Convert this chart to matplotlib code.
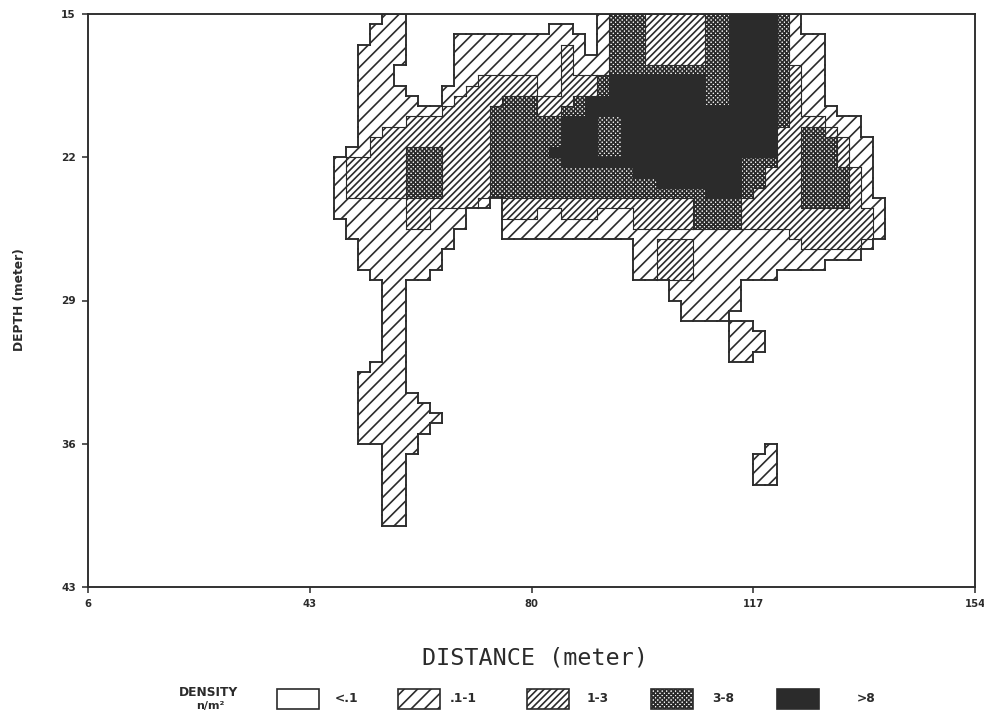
import numpy as np
import matplotlib
matplotlib.use('Agg')
import matplotlib.pyplot as plt
from matplotlib.collections import PolyCollection, LineCollection
from matplotlib.patches import Rectangle

plt.rcParams['font.family'] = 'DejaVu Sans'
plt.rcParams['hatch.linewidth'] = 1.5

# survey grid: 2 m cells along the transect, 0.5 m cells in depth
grid_x0, grid_dx = 47.0, 2.0
grid_y0, grid_dy = 15.0, 0.5

# density class of each cell: '.' <.1, '1' .1-1, '2' 1-3, '3' 3-8, '4' >8
density_rows = [
    "....11................13332222233444431........",
    "...111............11..13332222233444431........",
    "...111....11111111111.1333222223344443111......",
    "..1111....11111111121.1333222223344443111......",
    "..1111....1111111112111333222223344443111......",
    "..111.....1111111112111333333333344443211......",
    "..111.....1122222112223444444443344443211......",
    "..1111...11222222112223444444443344443211......",
    "..11111..12222333222344444444443344443211......",
    "..1111111222233332233444444444444444432111.....",
    "..111122222223333334443344444444444443222111...",
    "..112222222223333334443344444444444442233211...",
    "..1222222222233333344433444444444444422333211..",
    ".11222333222233333444433444444444444422333211..",
    "122222333222233333344444444444444433322333211..",
    "122222333222233333333333344444444433222333321..",
    "122222333222233333333333333444444433222333321..",
    "122222333222233333333333333333344432222333321..",
    "1111112222221.22222222222222223333222223333211.",
    "11111122111...22211222111222223333222222222221.",
    ".1111122111...11111111111222223333222222222221.",
    ".111111111....11111111111111111111111122222221.",
    "..11111111...............11222111111111222221..",
    "..1111111................1122211111111111111...",
    "..1111111................1122211111111111......",
    "...11111.................112221111111..........",
    "....11......................111111",
    "....11......................111111",
    "....11.......................11111",
    "....11.......................1111",
    "....11...........................11",
    "....11...........................111",
    "....11...........................111",
    "....11...........................11",
    "...111",
    "..1111",
    "..1111",
    "..11111",
    "..111111",
    "..1111111",
    "..111111",
    "..11111",
    "....111.............................1",
    "....11.............................11",
    "....11.............................11",
    "....11.............................11",
    "....11",
    "....11",
    "....11",
    "....11",
]

class_labels = ['<.1', '.1-1', '1-3', '3-8', '>8']
x_ticks = [6, 43, 80, 117, 154]
y_ticks = [15, 22, 29, 36, 43]

INK = '#2b2b2b'
class_style = {
    0: dict(face='white', hatch=None),
    1: dict(face='white', hatch='//'),
    2: dict(face='white', hatch='////'),
    3: dict(face='white', hatch='xxxxxx'),
    4: dict(face=INK, hatch=None),
}

ncols = max(len(r) for r in density_rows)
grid = np.array([['.1234'.index(c) for c in r.ljust(ncols, '.')[:ncols]]
                 for r in density_rows])
nrows = grid.shape[0]
xe = grid_x0 + grid_dx * np.arange(ncols + 1)
ye = grid_y0 + grid_dy * np.arange(nrows + 1)

fig = plt.figure(figsize=(12.3, 9.0), dpi=80)
ax = fig.add_axes([88 / 984, 1 - 587 / 720, (975 - 88) / 984, (587 - 14) / 720])

# filled cells, one collection per density class
for k in range(1, 5):
    st = class_style[k]
    jj, ii = np.nonzero(grid == k)
    verts = [[(xe[i], ye[j]), (xe[i + 1], ye[j]), (xe[i + 1], ye[j + 1]),
              (xe[i], ye[j + 1])] for j, i in zip(jj, ii)]
    pc = PolyCollection(verts, facecolors=st['face'], edgecolors=INK,
                        linewidths=0, hatch=st['hatch'], antialiaseds=False)
    ax.add_collection(pc)

# stair-step outlines wherever the class changes
outer, inner = [], []
P = np.pad(grid, 1)
for j in range(nrows):
    for i in range(ncols + 1):
        a, b = P[j + 1, i], P[j + 1, i + 1]
        if a != b:
            seg = [(xe[i], ye[j]), (xe[i], ye[j + 1])]
            (outer if min(a, b) == 0 else inner).append(seg)
for j in range(nrows + 1):
    for i in range(ncols):
        a, b = P[j, i + 1], P[j + 1, i + 1]
        if a != b:
            seg = [(xe[i], ye[j]), (xe[i + 1], ye[j])]
            (outer if min(a, b) == 0 else inner).append(seg)
ax.add_collection(LineCollection(inner, colors=INK, linewidths=1.0,
                                 capstyle='projecting'))
ax.add_collection(LineCollection(outer, colors=INK, linewidths=1.7,
                                 capstyle='projecting'))

ax.set_xlim(x_ticks[0], x_ticks[-1])
ax.set_ylim(y_ticks[-1], y_ticks[0])
ax.set_xticks(x_ticks)
ax.set_yticks(y_ticks)
ax.set_xticklabels([str(t) for t in x_ticks], fontweight='bold', fontsize=9)
ax.set_yticklabels([str(t) for t in y_ticks], fontweight='bold', fontsize=9.5)
ax.tick_params(direction='out', length=5, width=1.4, color=INK,
               labelcolor=INK, pad=6)
for sp in ax.spines.values():
    sp.set_linewidth(1.7)
    sp.set_color(INK)

fig.text(535 / 984, 1 - 658 / 720, 'DISTANCE (meter)', ha='center',
         va='center', fontsize=21, family='DejaVu Sans Mono', color=INK)
fig.text(20 / 984, 1 - 300 / 720, 'DEPTH (meter)', ha='center', va='center',
         rotation=90, fontsize=11, fontweight='bold', color=INK)

# legend strip drawn in pixel coordinates
lax = fig.add_axes([0, 0, 1, 1], zorder=-1)
lax.set_xlim(0, 984)
lax.set_ylim(720, 0)
lax.axis('off')
lax.text(208, 692, 'DENSITY', ha='center', va='center', fontsize=11,
         fontweight='bold', color=INK)
lax.text(210, 706, 'n/m²', ha='center', va='center', fontsize=10,
         fontweight='bold', color=INK)
box_x = [277, 398, 527, 651, 777]
text_x = [335, 450, 587, 712, 857]
for k, lab in enumerate(class_labels):
    st = class_style[k]
    lax.add_patch(Rectangle((box_x[k], 689), 42, 20, facecolor=st['face'],
                            edgecolor=INK, linewidth=1.5, hatch=st['hatch']))
    lax.text(text_x[k], 699, lab, ha='left', va='center', fontsize=11,
             fontweight='bold', color=INK)

fig.savefig('out.png', dpi=80, facecolor='white')
